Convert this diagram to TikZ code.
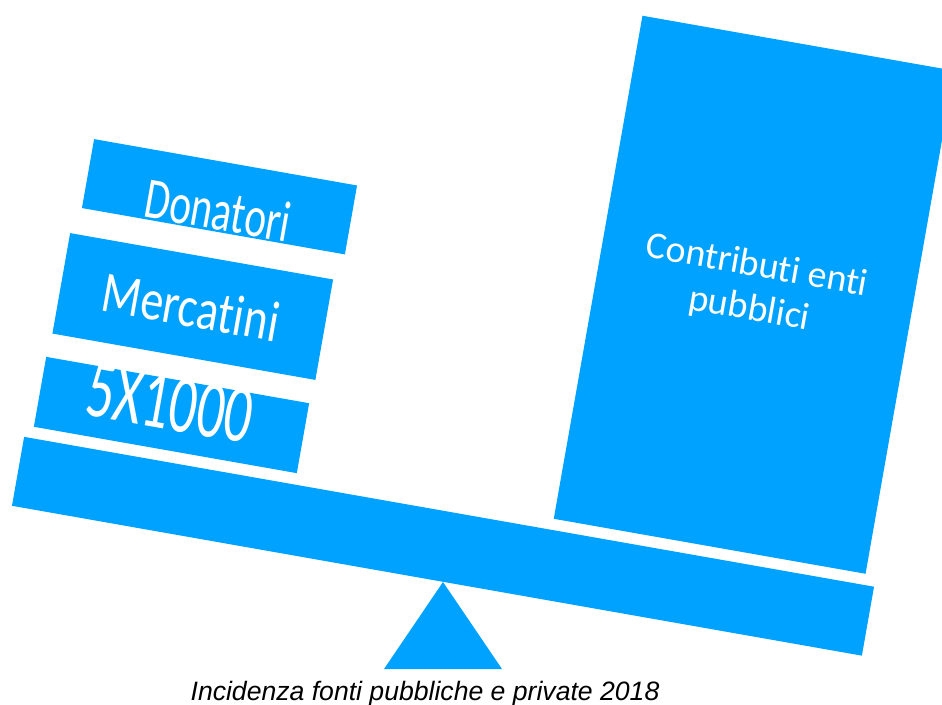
\documentclass[tikz,border=0pt]{standalone}
\usepackage{fontspec}
\usepackage{graphicx}
\setmainfont[Ligatures=NoCommon]{Carlito}
\newfontfamily\capfont{Liberation Sans}
\definecolor{skyblue}{RGB}{0,162,255}
\tikzset{
  block/.style={fill=skyblue, draw=none, rotate=-10, inner sep=0pt, outer sep=0pt},
  lbl/.style={text=white, rotate=-10, inner sep=0pt, align=center},
}
\begin{document}
\begin{tikzpicture}[x=1pt, y=-1pt]
\useasboundingbox (0,0) rectangle (942,704);
\clip (0,0) rectangle (942,704);
% beam and pivot
\node[block, minimum width=863pt, minimum height=70pt] (beam) at (443,546.25) {};
\coordinate (apex) at (443,582);
\coordinate (bl) at (384,669);
\coordinate (br) at (502,669);
\fill[skyblue] (apex) -- (br) -- (bl) -- cycle;
% left stack
\node[block, minimum width=267pt, minimum height=71pt] (fivebox) at (171.5,415) {};
\node[block, minimum width=267pt, minimum height=102pt] (mercbox) at (192.75,306.5) {};
\node[block, minimum width=267pt, minimum height=70pt] (donbox) at (219.5,196.75) {};
% right block
\node[block, minimum width=316.6pt, minimum height=510.8pt] (pubbox) at (754,294.75) {};
% labels
\node[lbl, font=\fontsize{58}{60}\selectfont] (don) at (218,210) {\scalebox{0.71}[1]{Donatori}};
\node[lbl, font=\fontsize{58}{60}\selectfont] (merc) at (191,307) {\scalebox{0.79}[1]{Mercatini}};
\node[lbl, font=\fontsize{83}{85}\selectfont] (five) at (170,403) {\scalebox{0.66}[1]{5X1000}};
\node[lbl, font=\fontsize{38}{44}\selectfont] (pub) at (753,288) {Contributi enti\\pubblici};
% caption
\node[anchor=base, inner sep=0pt, font=\capfont\itshape\fontsize{26.6}{30}\selectfont] (cap) at (425,700) {Incidenza fonti pubbliche e private 2018};
\end{tikzpicture}
\end{document}
